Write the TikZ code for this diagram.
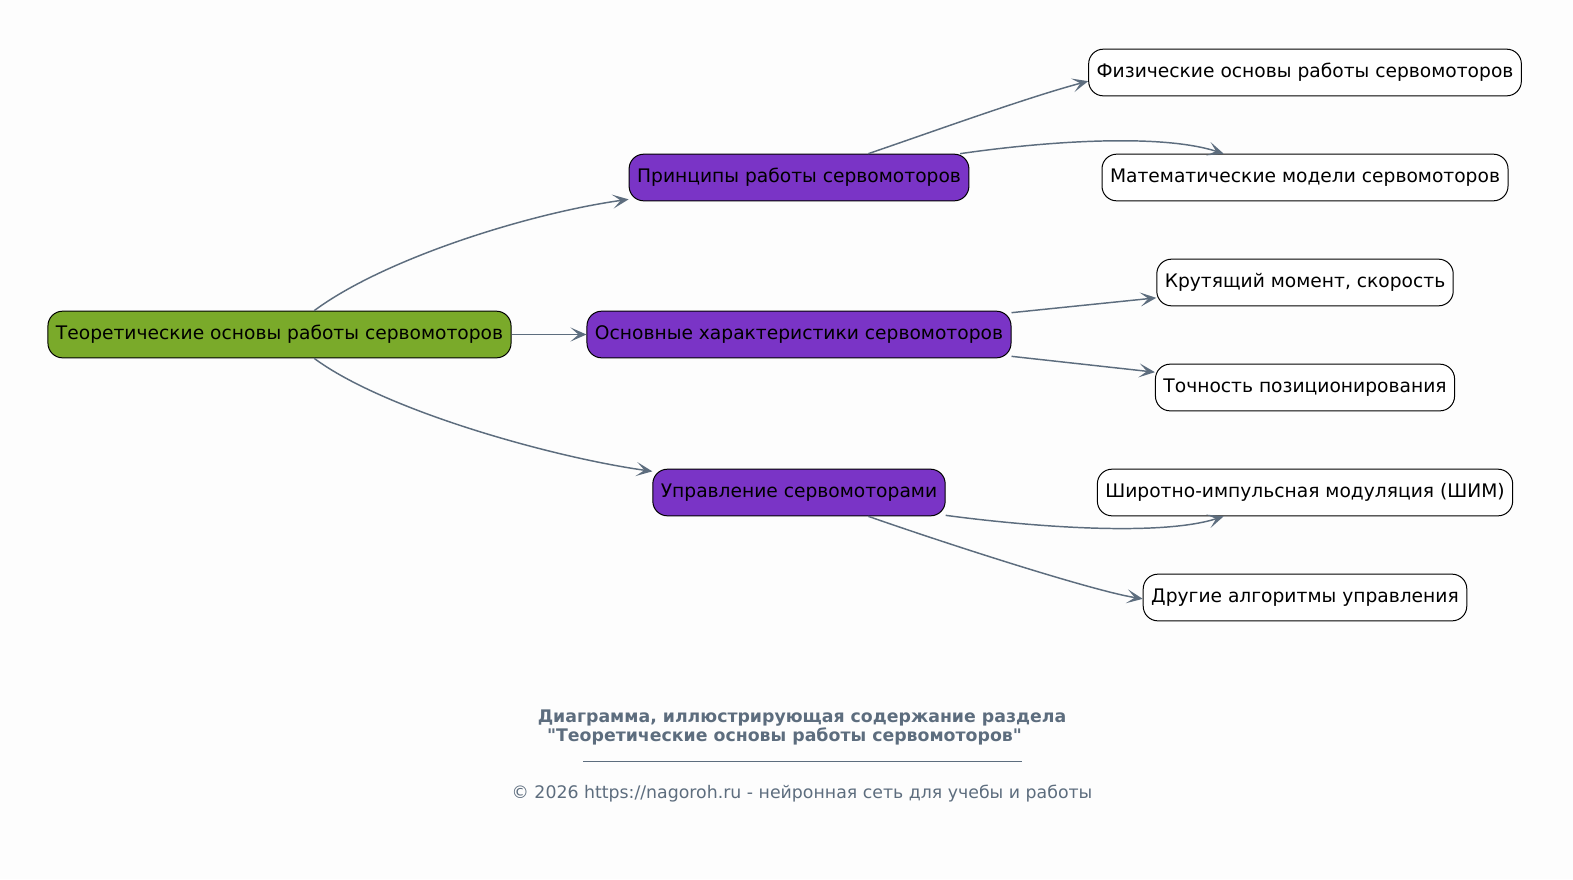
\documentclass[tikz,border=0pt]{standalone}
\usepackage{fontspec}
\setmainfont{DejaVu Sans}[Ligatures=TeXOff]
\usetikzlibrary{arrows.meta}
\definecolor{rootgreen}{RGB}{122,170,42}
\definecolor{topicviolet}{RGB}{122,52,198}
\definecolor{slate}{RGB}{93,109,126}
\definecolor{paper}{RGB}{253,253,253}
\begin{document}
\begin{tikzpicture}[x=0.75pt, y=-0.75pt,
	box/.style={draw=black, line width=0.75pt, rounded corners=11pt, minimum height=35pt, inner xsep=6pt, font=\fontsize{14}{16}\selectfont},
	root/.style={box, fill=rootgreen},
	topic/.style={box, fill=topicviolet},
	leaf/.style={box, fill=white},
	edge/.style={draw=slate, line width=1.1pt, -{Stealth[length=12pt, width=10.5pt, inset=6pt]}},
	caption/.style={text=slate, font=\fontsize{13}{15}\selectfont}]
		\fill[paper] (0,0) rectangle (1573,879);
		\useasboundingbox (0,0) rectangle (1573,879);
		
		\node[root] (t) at (279.5,334.5) {Теоретические основы работы сервомоторов};
		
		\node[topic] (p1) at (799,177.5) {Принципы работы сервомоторов};
		\node[topic] (p2) at (799,334.5) {Основные характеристики сервомоторов};
		\node[topic] (p3) at (799,492.5) {Управление сервомоторами};
		
		\node[leaf] (f1) at (1305,72.5) {Физические основы работы сервомоторов};
		\node[leaf] (f2) at (1305,177.5) {Математические модели сервомоторов};
		\node[leaf] (c1) at (1305,282.5) {Крутящий момент, скорость};
		\node[leaf] (c2) at (1305,387.5) {Точность позиционирования};
		\node[leaf] (u1) at (1305,492.5) {Широтно-импульсная модуляция (ШИМ)};
		\node[leaf] (u2) at (1305,597.5) {Другие алгоритмы управления};
		
		\draw[edge] ([xshift=26pt]t.north) .. controls +(70,-52) and +(-100,14) .. ([yshift=1.5pt]p1.south west);
		\draw[edge] (t) -- (p2);
		\draw[edge] ([xshift=26pt]t.south) .. controls +(70,52) and +(-100,-14) .. ([yshift=-2pt]p3.north west);
		
		\draw[edge] ([xshift=52pt]p1.north) .. controls +(70,-24) and +(-60,16) .. ([yshift=-6.5pt]f1.west);
		\draw[edge] ([xshift=-7pt]p1.north east) .. controls +(90,-13) and +(-62,-20) .. ([xshift=-61pt]f2.north);
		\draw[edge] ([yshift=-1.5pt]p2.north east) -- ([yshift=-11.5pt]c1.west);
		\draw[edge] ([yshift=1.5pt]p2.south east) -- ([yshift=11.5pt]c2.west);
		\draw[edge] ([yshift=0.75pt]p3.south east) .. controls +(90,12) and +(-62,20) .. ([xshift=-61pt]u1.south);
		\draw[edge] ([xshift=52pt]p3.south) .. controls +(80,28) and +(-50,-8) .. ([yshift=-1pt]u2.west);
		
		\node[caption, font=\bfseries\fontsize{13}{15}\selectfont] (cap1) at (802,718) {Диаграмма, иллюстрирующая содержание раздела};
		\node[caption, font=\bfseries\fontsize{13}{15}\selectfont] (cap2) at (784.5,736) {"Теоретические основы работы сервомоторов"};
		\draw[slate, line width=0.75pt] (583,761) -- (1022,761);
		\node[caption] (copy) at (802,794) {© 2026 https://nagoroh.ru - нейронная сеть для учебы и работы};
	\end{tikzpicture}
\end{document}
